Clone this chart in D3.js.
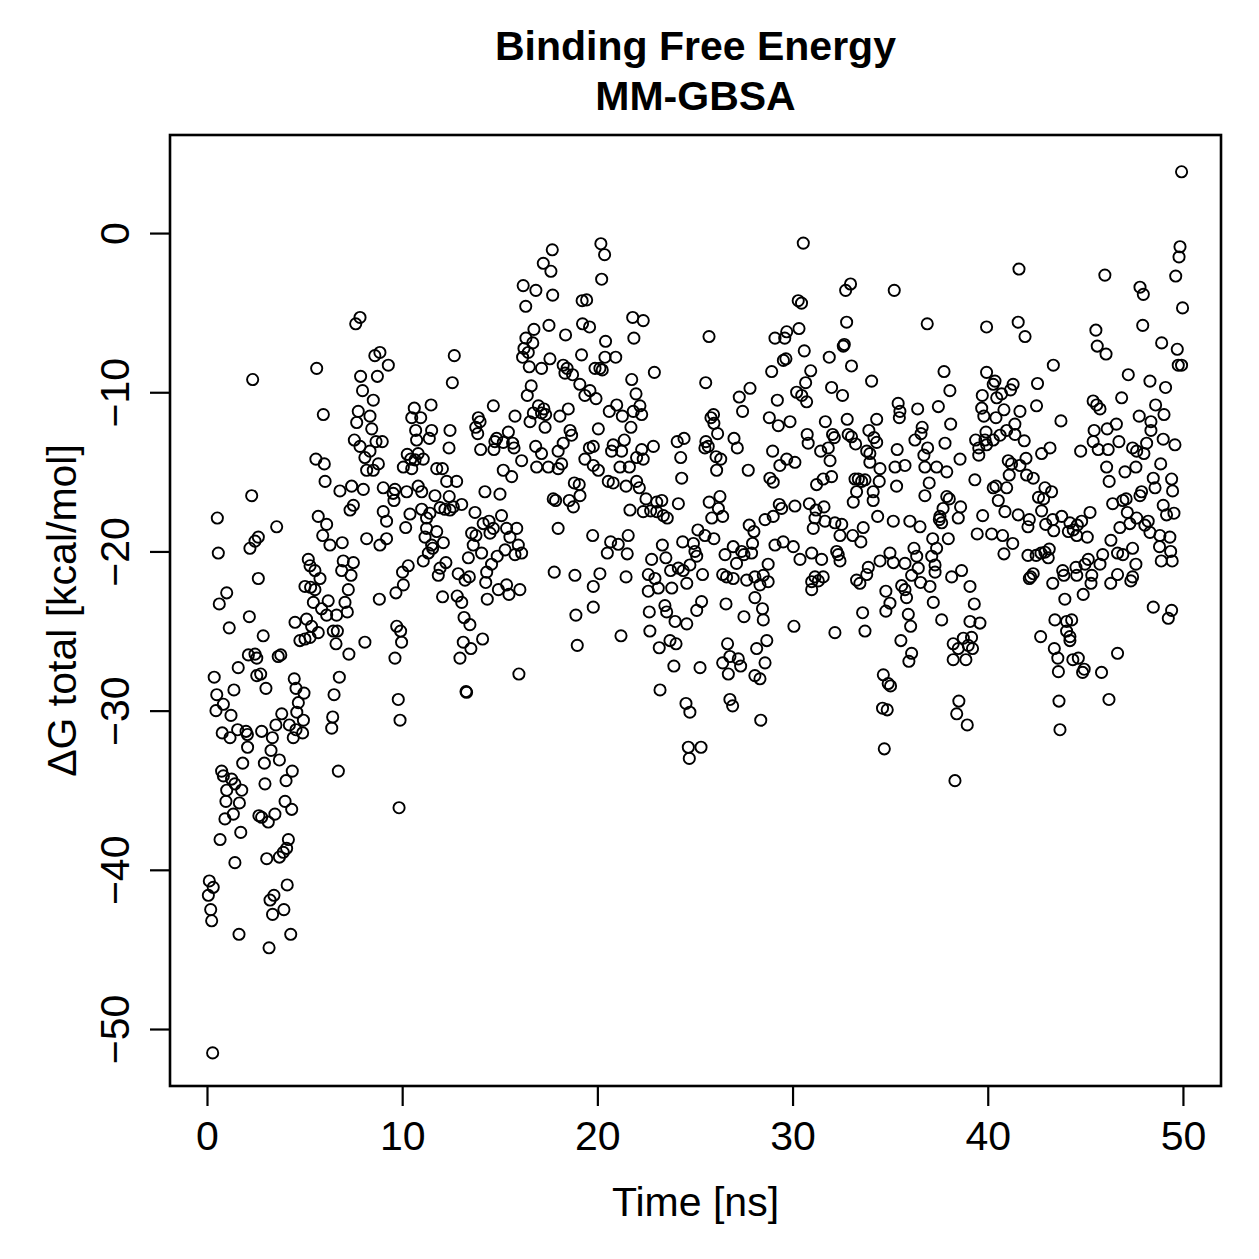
<!DOCTYPE html>
<html>
<head>
<meta charset="utf-8">
<script src="https://cdn.jsdelivr.net/npm/d3@7"></script>
<style>
  body { margin: 0; background: #fff; }
  text { font-family: "Liberation Sans", Arial, Helvetica, sans-serif; }
</style>
</head>
<body>
<div id="chart"></div>
<script>
// Binding free energy (MM-GBSA) per frame.
// Each entry is [time in ns, dG total in kcal/mol].
const window1 = [
  [7.84,-5.3],[7.62,-5.7],[8.86,-7.5],[8.6,-7.7],[9.29,-8.3],[2.34,-9.2],[5.62,-8.5],[7.87,-9.0],[8.73,-9.0],[7.97,-9.9],
  [8.52,-10.5],[5.96,-11.4],[7.75,-11.2],[8.35,-11.5],[7.67,-11.9],[8.44,-12.3],[7.55,-13.0],[8.66,-13.1],[8.98,-13.1],[7.84,-13.4],
  [8.35,-13.7],[8.09,-14.1],[5.58,-14.2],[6.01,-14.5],[8.78,-14.5],[8.18,-14.9],[8.52,-14.9],
  [6.05,-15.6],[6.81,-16.2],[7.41,-15.9],[8.01,-16.1],[9.03,-16.0],[2.29,-16.5],[0.53,-17.9],[7.33,-17.4],[7.5,-17.1],[5.7,-17.8],
  [6.13,-18.3],[3.57,-18.45],[9.03,-17.5],[9.2,-18.1],[2.63,-19.1],[2.46,-19.35],[2.2,-19.8],[5.93,-19.0],[6.3,-19.6],[6.93,-19.45],
  [8.18,-19.2],[8.86,-19.6],[9.2,-19.2],[0.58,-20.1],[5.19,-20.5],[5.28,-20.9],[5.53,-21.2],[5.79,-21.7],[6.98,-20.6],[7.5,-20.7],
  [6.9,-21.2],[7.38,-21.5],[2.63,-21.7],[5.02,-22.2],[5.31,-22.25],[5.53,-22.4],[7.24,-22.4],[1.01,-22.6],[0.63,-23.3],[5.45,-23.2],
  [6.21,-23.1],[7.07,-23.2],[8.83,-23.0],[5.87,-23.6],[6.13,-24.0],[6.64,-24.0],[7.19,-23.8],[2.17,-24.1],[4.51,-24.45],[5.1,-24.25],
  [5.36,-24.7],[5.7,-25.1],[6.47,-25.0],[6.68,-25.0],[1.14,-24.8],[2.88,-25.3],[4.76,-25.6],[5.02,-25.5],[5.28,-25.4],[6.61,-25.8],
  [8.09,-25.7],[7.27,-26.45],[2.12,-26.5],[2.46,-26.45],[2.55,-26.7],[3.65,-26.6],[3.78,-26.5],[1.6,-27.3],[0.37,-27.9],[2.55,-27.8],
  [2.75,-27.7],[6.78,-27.9],[4.47,-28.0],[1.38,-28.7],[3.02,-28.6],[4.56,-28.6],[4.97,-28.9],[0.5,-29.0],[6.51,-29.0],[0.84,-29.6],
  [4.68,-29.5],[0.46,-30.0],[1.23,-30.3],[3.83,-30.2],[4.6,-30.1],[4.94,-30.6],[6.44,-30.4],[6.39,-31.1],[3.53,-30.9],[4.22,-30.9],
  [4.56,-31.2],[1.57,-31.2],[2.0,-31.3],[2.8,-31.3],[0.78,-31.4],[1.18,-31.7],[2.07,-31.5],[4.9,-31.4],[4.42,-31.7],[3.35,-31.7],
  [2.08,-32.3],[3.28,-32.5],[1.83,-33.3],[2.94,-33.3],[3.71,-33.1],[6.73,-33.8],[0.75,-33.8],[0.84,-34.1],[4.37,-33.8],[4.05,-34.4],
  [1.26,-34.3],[1.43,-34.6],[2.97,-34.6],[1.01,-35.0],[1.78,-35.0],
  [0.97,-35.7],[1.66,-35.8],[1.35,-36.5],[0.92,-36.8],[4.0,-35.7],[4.34,-36.2],[3.48,-36.5],[2.66,-36.6],[2.8,-36.7],[3.14,-37.0],
  [1.73,-37.65],[0.67,-38.1],[4.17,-38.1],[4.08,-38.65],[3.91,-38.9],[3.71,-39.2],[3.06,-39.3],[1.43,-39.55],[0.12,-40.7],[0.32,-41.1],
  [0.07,-41.6],[0.19,-42.5],[0.24,-43.2],[4.11,-40.95],[3.43,-41.6],[3.23,-41.9],[3.94,-42.5],[3.36,-42.8],[1.64,-44.05],[4.29,-44.05],
  [3.18,-44.9],[0.29,-51.5]
];

const window2 = [
  [17.69,-1.05],[17.23,-1.9],[17.62,-2.4],[16.2,-3.3],[16.85,-3.6],[17.71,-3.9],[19.22,-4.25],[16.33,-4.6],[17.52,-5.8],[16.75,-6.05],
  [19.24,-5.7],[18.37,-6.4],[16.34,-6.6],[16.69,-6.9],[16.24,-7.25],[16.46,-7.5],[16.17,-7.8],[17.57,-7.9],[19.19,-7.65],[12.67,-7.7],
  [16.51,-8.4],[17.14,-8.5],[18.25,-8.3],[18.45,-8.5],[18.34,-8.8],[18.73,-8.9],[12.57,-9.4],[16.61,-9.6],[16.41,-10.2],[19.1,-9.5],
  [19.36,-10.2],[11.48,-10.8],[10.62,-11.0],[10.49,-11.6],[10.95,-11.6],[14.67,-10.85],[16.98,-10.85],[17.26,-11.05],[17.14,-11.3],[16.72,-11.3],
  [17.35,-11.4],[18.51,-11.05],[18.08,-11.5],[15.78,-11.5],[13.9,-11.6],[13.99,-11.85],[16.55,-11.85],[17.32,-12.2],[13.77,-12.2],[13.87,-12.6],
  [10.69,-12.4],[11.51,-12.4],[12.45,-12.4],[15.44,-12.5],[18.6,-12.4],[18.68,-12.7],[10.74,-13.0],[11.39,-12.9],[14.84,-12.9],[14.75,-13.1],
  [15.18,-13.15],[15.66,-13.2],[15.73,-13.5],[16.84,-13.4],[18.25,-13.2],[19.59,-13.5],[12.4,-13.5],[14.02,-13.6],[14.7,-13.6],[17.14,-13.85],
  [17.99,-13.7],[10.26,-13.9],[10.82,-13.85],[10.44,-14.2],[10.66,-14.25],[11.08,-14.2],[16.12,-14.3],[19.36,-14.2],[10.06,-14.7],[10.49,-14.8],
  [11.77,-14.8],[12.06,-14.8],[15.18,-14.9],[16.89,-14.7],[17.49,-14.7],[17.99,-14.8],[18.17,-14.5],
  [9.63,-16.1],[9.54,-16.35],[9.58,-16.8],[10.23,-16.25],[10.82,-15.9],[11.0,-16.25],[12.28,-15.6],[12.79,-15.6],[11.68,-16.5],[12.41,-16.55],
  [14.24,-16.25],[15.01,-16.4],[15.61,-15.3],[17.74,-16.7],[17.86,-16.8],[18.56,-16.8],[18.77,-17.2],[18.82,-15.7],[19.07,-15.8],[19.11,-16.5],
  [11.0,-17.35],[10.4,-17.65],[11.42,-17.6],[11.94,-17.25],[12.19,-17.35],[12.45,-17.4],[12.62,-17.2],[13.05,-17.05],[13.73,-17.55],[15.09,-17.75],
  [11.25,-17.9],[10.18,-18.5],[11.25,-18.55],[11.77,-18.75],[14.15,-18.25],[14.45,-18.1],[14.67,-18.55],[14.5,-18.85],[15.35,-18.55],[15.87,-18.55],
  [15.52,-19.1],[17.99,-18.55],[13.56,-18.85],[13.78,-19.0],[13.64,-19.6],[11.17,-19.1],[11.51,-19.6],[12.11,-19.45],[11.56,-19.8],[11.34,-20.1],
  [15.95,-19.6],[16.12,-20.1],[15.78,-20.2],[15.27,-19.9],[14.07,-20.1],[14.87,-20.3],[13.39,-20.4],[11.08,-20.6],[10.31,-20.9],[12.24,-20.7],
  [11.94,-21.05],[14.58,-20.8],[14.33,-21.3],[10.02,-21.3],[11.85,-21.5],[12.87,-21.4],[13.22,-21.8],[13.44,-21.6],[17.79,-21.3],[18.85,-21.5],
  [10.06,-22.1],[14.28,-21.95],[9.68,-22.6],[12.07,-22.85],[12.82,-22.8],[13.05,-23.2],[14.36,-23.0],[14.93,-22.4],[15.35,-22.1],[15.47,-22.7],
  [16.03,-22.4],[13.17,-24.15],[13.47,-24.6],[18.9,-24.0],[9.72,-24.7],[9.92,-25.0],[9.97,-25.7],[13.13,-25.7],[14.12,-25.5],[13.52,-26.1],
  [12.96,-26.7],[18.97,-25.9],[9.63,-26.7],[15.98,-27.7],[13.27,-28.8],[13.3,-28.85],[9.8,-29.3],[9.89,-30.6],[9.84,-36.1]
];

const window3 = [
  [20.18,-0.67],[20.37,-1.36],[20.22,-2.9],[19.45,-4.2],[21.81,-5.3],[22.35,-5.5],[19.6,-5.9],[20.42,-6.8],[21.87,-6.6],[25.72,-6.5],
  [29.1,-6.6],[29.6,-6.6],[29.7,-6.2],[20.13,-8.5],[20.39,-7.8],[20.94,-7.8],[20.25,-8.6],[19.88,-8.5],[22.92,-8.75],[21.76,-9.2],
  [25.55,-9.4],[27.82,-9.75],[27.27,-10.3],[28.93,-8.7],[29.66,-7.9],[29.53,-8.0],[19.62,-9.9],[19.93,-10.4],[21.98,-10.1],[20.99,-10.8],
  [20.61,-11.2],[21.28,-11.5],[21.84,-11.2],[22.18,-10.85],[22.27,-11.4],[27.44,-11.2],[29.22,-10.5],[25.95,-11.4],[25.82,-11.6],[25.97,-11.95],
  [28.81,-11.6],[29.27,-12.1],[20.05,-12.3],[21.72,-12.2],[26.16,-12.6],[21.38,-13.0],[24.09,-13.1],[24.44,-12.9],[27.0,-12.9],[27.17,-13.5],
  [19.79,-13.4],[20.81,-13.3],[20.73,-13.7],[21.24,-13.7],[22.27,-13.6],[22.87,-13.4],[25.56,-13.1],[25.51,-13.5],[25.68,-13.4],[28.98,-13.7],
  [24.27,-14.1],[26.08,-14.05],[26.32,-14.2],[22.01,-14.1],[22.35,-14.2],[19.79,-14.6],[21.16,-14.7],[21.64,-14.7],[20.05,-14.9],[29.35,-14.6],
  [29.7,-14.2],[27.73,-14.9],[26.11,-14.9],
  [24.32,-15.4],[20.56,-15.6],[20.81,-15.7],[21.47,-15.9],[22.01,-15.6],[22.15,-16.0],[28.84,-15.4],[29.01,-15.65],[22.49,-16.7],[23.04,-16.9],
  [23.3,-16.8],[24.15,-17.0],[21.67,-17.4],[22.35,-17.5],[22.73,-17.45],[23.04,-17.5],[23.38,-17.75],[23.58,-17.9],[25.73,-16.9],[26.28,-16.55],
  [26.2,-17.3],[25.86,-17.9],[26.42,-17.8],[29.32,-17.05],[29.44,-17.3],[29.01,-17.8],[28.59,-18.0],[27.78,-18.35],[28.02,-18.75],[19.76,-19.0],
  [21.58,-19.0],[25.15,-18.65],[25.51,-19.0],[25.97,-19.2],[20.68,-19.4],[21.07,-19.55],[20.51,-20.1],[21.53,-20.15],[24.37,-19.4],[24.92,-19.5],
  [23.33,-19.6],[25.0,-20.0],[25.09,-20.3],[26.54,-20.2],[26.96,-19.7],[27.39,-20.0],[27.51,-20.2],[27.9,-20.1],[27.95,-19.5],[29.52,-19.4],
  [29.1,-19.6],[22.78,-20.5],[23.51,-20.4],[27.13,-20.75],[28.75,-20.8],[20.13,-21.4],[21.47,-21.6],[22.61,-21.45],[22.95,-21.7],[23.75,-21.2],
  [24.15,-21.05],[24.4,-21.2],[24.74,-20.85],[25.39,-21.45],[26.42,-21.45],[26.62,-21.6],[26.96,-21.7],[27.65,-21.8],[28.07,-21.6],[28.5,-21.5],
  [28.75,-21.9],[24.58,-22.0],[23.81,-22.3],[23.12,-22.3],[22.61,-22.5],[19.79,-22.2],[28.33,-22.1],[28.07,-22.9],[25.34,-23.15],[25.09,-23.7],
  [26.59,-23.3],[23.46,-23.4],[23.55,-23.8],[22.66,-23.8],[19.79,-23.5],[28.46,-23.6],[23.98,-24.4],[24.58,-24.55],[27.51,-24.1],[28.5,-24.3],
  [21.21,-25.3],[22.69,-25.0],[23.72,-25.6],[24.03,-25.8],[23.17,-26.05],[26.67,-25.8],[28.68,-25.6],[28.16,-26.1],[26.79,-26.6],[27.22,-26.75],
  [26.42,-27.0],[27.34,-27.2],[28.59,-27.0],[23.92,-27.2],[25.26,-27.3],[26.71,-27.7],[28.07,-27.8],[28.33,-28.0],[23.21,-28.7],[24.54,-29.55],
  [24.74,-30.1],[26.79,-29.3],[26.93,-29.7],[28.37,-30.6],[24.66,-32.3],[25.31,-32.3],[24.71,-33.0]
];

const window4 = [
  [30.55,-0.63],[32.97,-3.2],[32.72,-3.6],[35.21,-3.6],[30.29,-4.25],[30.46,-4.4],[32.77,-5.6],[36.9,-5.7],[39.94,-5.9],[30.33,-6.0],
  [32.6,-7.1],[32.65,-7.0],[30.6,-7.4],[31.88,-7.8],[33.02,-8.35],[30.93,-8.65],[37.76,-8.7],[34.05,-9.3],[39.94,-8.75],[30.67,-9.4],
  [32.0,-9.7],[38.06,-9.9],[30.21,-10.0],[30.47,-10.2],[30.72,-10.6],[32.56,-10.2],[39.72,-10.2],[35.41,-10.7],[35.5,-11.2],[35.47,-11.6],
  [36.41,-11.05],[37.47,-10.9],[39.69,-11.0],[39.8,-11.5],[29.87,-11.85],[31.68,-11.85],[32.8,-11.7],[34.31,-11.7],[38.1,-12.0],[30.75,-12.65],
  [32.05,-12.65],[32.14,-12.85],[32.85,-12.65],[33.02,-12.8],[33.91,-12.4],[34.17,-12.85],[36.64,-12.2],[36.58,-12.6],[36.27,-13.0],[39.38,-13.0],
  [39.91,-12.5],[39.86,-13.0],[30.8,-13.2],[34.31,-13.15],[33.23,-13.25],[37.81,-13.2],[31.44,-13.7],[31.83,-13.5],[33.8,-13.7],[33.96,-13.85],
  [35.36,-13.6],[36.92,-13.5],[36.73,-13.95],[39.54,-13.5],[39.54,-13.95],[39.94,-13.3],[30.12,-14.4],[31.92,-14.3],[33.96,-14.4],[38.58,-14.2],
  [34.48,-14.8],[35.25,-14.7],[35.76,-14.6],[36.78,-14.7],[37.38,-14.7],[37.9,-15.0],
  [31.23,-15.8],[31.57,-15.45],[32.0,-15.3],[33.2,-15.45],[33.37,-15.45],[33.54,-15.6],[33.71,-15.5],[34.44,-15.6],[35.33,-15.9],[37.0,-15.7],
  [39.34,-15.5],[33.28,-16.25],[34.13,-16.25],[34.13,-16.8],[33.11,-16.9],[36.78,-16.5],[37.9,-16.55],[38.03,-16.7],[30.12,-17.15],[30.86,-17.0],
  [31.2,-17.4],[31.61,-17.2],[37.71,-17.3],[38.61,-17.2],[31.15,-17.9],[31.66,-18.1],[32.17,-18.2],[32.52,-18.3],[31.06,-18.55],[33.62,-18.5],
  [34.36,-17.8],[35.16,-18.1],[36.01,-18.1],[36.53,-18.45],[37.52,-18.0],[37.64,-18.2],[37.55,-17.8],[38.49,-17.9],[39.74,-17.75],[39.46,-18.9],
  [32.43,-19.0],[33.08,-19.0],[33.5,-19.4],[30.04,-19.7],[30.98,-20.1],[30.38,-20.5],[31.49,-20.5],[32.26,-20.0],[32.34,-20.2],[32.43,-20.6],
  [37.18,-19.2],[37.98,-19.2],[36.22,-19.8],[37.38,-19.8],[34.99,-20.1],[36.36,-20.3],[37.13,-20.3],[34.48,-20.6],[35.16,-20.7],[35.76,-20.75],
  [37.3,-20.85],[33.88,-21.0],[36.44,-21.05],[37.3,-21.3],[38.66,-21.2],[33.8,-21.45],[36.1,-21.5],[38.15,-21.6],[31.15,-21.6],[31.57,-21.6],
  [31.32,-21.85],[30.98,-21.9],[33.28,-21.8],[33.45,-22.0],[36.56,-21.95],[35.59,-22.15],[35.76,-22.4],[37.04,-22.2],[39.09,-22.2],[30.98,-22.4],
  [34.78,-22.5],[35.84,-22.9],[39.31,-23.3],[37.21,-23.2],[34.99,-23.25],[34.78,-23.75],[33.59,-23.85],[35.93,-23.95],[36.05,-24.7],[37.64,-24.3],
  [39.09,-24.4],[39.6,-24.5],[30.07,-24.7],[32.17,-25.1],[33.71,-25.0],[35.55,-25.6],[39.17,-25.4],[38.75,-25.45],[38.23,-25.8],[38.49,-26.1],
  [39.0,-25.9],[39.22,-26.1],[36.1,-26.4],[35.96,-26.9],[38.23,-26.8],[38.88,-26.8],[34.65,-27.75],[34.9,-28.3],[35.02,-28.45],[34.61,-29.85],
  [34.85,-29.95],[38.52,-29.4],[38.41,-30.2],[38.95,-30.9],[34.7,-32.4],[38.32,-34.4]
];

const window5 = [
  [49.93,3.85],[49.85,-0.86],[49.8,-1.5],[49.63,-2.7],[41.6,-2.26],[46.0,-2.64],[47.8,-3.4],[47.97,-3.85],[49.98,-4.7],[41.56,-5.6],
  [41.91,-6.5],[45.54,-6.1],[47.94,-5.8],[45.61,-7.1],[46.06,-7.6],[48.91,-6.9],[49.71,-7.3],[49.76,-8.3],[49.93,-8.3],[43.36,-8.3],
  [47.2,-8.9],[48.31,-9.3],[49.11,-9.7],[40.37,-9.3],[40.28,-9.5],[41.3,-9.5],[41.17,-9.85],[42.55,-9.45],[40.71,-10.1],[40.46,-10.35],
  [46.86,-10.35],[45.4,-10.55],[45.58,-10.8],[45.75,-11.05],[48.6,-10.8],[42.5,-10.85],[40.83,-11.1],[41.65,-11.2],[40.42,-11.6],[43.75,-11.8],
  [47.76,-11.5],[48.36,-11.85],[49.03,-11.4],[41.39,-12.0],[40.97,-12.4],[46.59,-12.0],[46.12,-12.3],[45.45,-12.4],[48.36,-12.4],[40.63,-12.7],
  [41.39,-12.65],[40.28,-13.0],[41.87,-13.05],[46.72,-13.1],[45.4,-13.1],[48.99,-12.95],[49.59,-13.3],[48.14,-13.2],[45.66,-13.6],[46.17,-13.6],
  [47.42,-13.5],[47.63,-13.7],[48.0,-13.85],[43.19,-13.5],[42.76,-13.85],[44.76,-13.7],[41.96,-14.15],[41.05,-14.3],[41.22,-14.5],[41.65,-14.6],
  [46.09,-14.7],[47.59,-14.7],[48.86,-14.5],[47.03,-15.0],
  [40.42,-15.9],[40.28,-16.0],[40.97,-16.0],[41.1,-15.2],[41.99,-15.2],[42.33,-15.4],[42.93,-16.0],[43.27,-16.25],[42.6,-16.6],[42.86,-16.7],
  [40.54,-16.8],[46.22,-15.6],[48.48,-15.4],[49.42,-15.45],[48.57,-16.0],[49.47,-16.2],[47.88,-16.25],[47.8,-16.5],[46.4,-17.0],[46.92,-16.8],
  [47.09,-16.7],[48.99,-17.1],[40.88,-17.5],[41.56,-17.7],[42.76,-17.45],[42.13,-18.0],[43.33,-18.0],[43.79,-17.8],[45.24,-17.55],[47.15,-17.55],
  [47.63,-17.9],[48.22,-18.1],[49.16,-17.7],[49.54,-17.6],[42.06,-18.45],[42.97,-18.3],[43.38,-18.7],[44.21,-18.2],[44.38,-18.65],[44.59,-18.35],
  [44.81,-18.1],[44.13,-18.75],[44.56,-19.0],[45.1,-19.1],[46.77,-18.5],[47.28,-18.25],[48.05,-18.35],[48.31,-18.8],[48.82,-19.0],[49.33,-19.1],
  [40.2,-18.9],[40.76,-19.0],[41.28,-19.5],[40.83,-20.15],[42.06,-20.25],[42.48,-20.25],[42.73,-20.1],[42.93,-20.05],[43.15,-19.85],[43.1,-20.4],
  [46.31,-19.3],[47.42,-19.8],[46.65,-20.1],[46.92,-20.2],[45.89,-20.2],[48.8,-19.7],[49.37,-20.0],[49.45,-20.6],[48.89,-20.6],[45.15,-20.5],
  [44.98,-20.8],[45.75,-20.8],[47.59,-20.8],[44.52,-21.0],[43.84,-21.2],[42.33,-21.4],[42.2,-21.6],[42.13,-21.7],[43.9,-21.5],[44.56,-21.5],
  [45.33,-21.5],[46.65,-21.45],[47.42,-21.6],[47.33,-21.85],[45.29,-22.0],[46.3,-22.0],[43.33,-22.0],[43.95,-23.0],[44.89,-22.7],[48.48,-23.5],
  [49.42,-23.7],[49.25,-24.2],[43.44,-24.3],[44.04,-24.4],[44.3,-24.3],[44.04,-25.0],[44.21,-25.35],[44.21,-25.6],[42.71,-25.35],[43.41,-26.1],
  [43.59,-26.7],[44.36,-26.8],[44.64,-26.7],[46.65,-26.4],[43.62,-27.55],[44.86,-27.6],[44.94,-27.4],[45.83,-27.6],[43.65,-29.4],[46.21,-29.3],
  [43.7,-31.2]
];

const xTicks = [0, 10, 20, 30, 40, 50];
const yTicks = [-50, -40, -30, -20, -10, 0];
const titleLines = ['Binding Free Energy', 'MM-GBSA'];
const xLabel = 'Time [ns]';
const yLabel = 'ΔG total [kcal/mol]';

const W = 1259, H = 1259;
const box = { left: 170, right: 1221, top: 135, bottom: 1086 };
const FONT = 41;

const samples = [].concat(window1, window2, window3, window4, window5);

const svg = d3.select('#chart').append('svg')
  .attr('width', W)
  .attr('height', H)
  .style('display', 'block')
  .style('background', '#fff');

const x = d3.scaleLinear().domain([-1.895, 51.95]).range([box.left, box.right]);
const y = d3.scaleLinear().domain([-53.58, 6.16]).range([box.bottom, box.top]);

// points (pch = 1)
svg.append('g')
  .selectAll('circle')
  .data(samples)
  .join('circle')
  .attr('cx', d => x(d[0]))
  .attr('cy', d => y(d[1]))
  .attr('r', 5.6)
  .attr('fill', 'none')
  .attr('stroke', '#000')
  .attr('stroke-width', 1.9);

// x axis
svg.append('g')
  .attr('transform', `translate(0,${box.bottom})`)
  .call(d3.axisBottom(x).tickValues(xTicks).tickSize(20).tickSizeOuter(0))
  .call(g => g.select('.domain').remove())
  .call(g => g.selectAll('.tick line').attr('stroke', '#000').attr('stroke-width', 2.2))
  .call(g => g.selectAll('.tick text')
    .attr('y', 64).attr('dy', 0)
    .attr('fill', '#000')
    .style('font-size', FONT + 'px'));

// y axis, labels parallel to the axis
svg.append('g')
  .attr('transform', `translate(${box.left},0)`)
  .call(d3.axisLeft(y).tickValues(yTicks).tickSize(20).tickSizeOuter(0))
  .call(g => g.select('.domain').remove())
  .call(g => g.selectAll('.tick line').attr('stroke', '#000').attr('stroke-width', 2.2))
  .call(g => g.selectAll('.tick text')
    .attr('x', 0).attr('y', 0).attr('dy', 0)
    .attr('transform', 'translate(-41,0) rotate(-90)')
    .attr('text-anchor', 'middle')
    .attr('fill', '#000')
    .style('font-size', FONT + 'px'));

// box
svg.append('rect')
  .attr('x', box.left)
  .attr('y', box.top)
  .attr('width', box.right - box.left)
  .attr('height', box.bottom - box.top)
  .attr('fill', 'none')
  .attr('stroke', '#000')
  .attr('stroke-width', 2.6);

// titles
const cx = (box.left + box.right) / 2;
svg.append('g')
  .selectAll('text')
  .data(titleLines)
  .join('text')
  .attr('x', cx)
  .attr('y', (d, i) => 60 + i * 50)
  .attr('text-anchor', 'middle')
  .style('font-size', FONT + 'px')
  .style('font-weight', '700')
  .text(d => d);

svg.append('text')
  .attr('x', cx)
  .attr('y', 1216)
  .attr('text-anchor', 'middle')
  .style('font-size', FONT + 'px')
  .text(xLabel);

svg.append('text')
  .attr('transform', `translate(76,${(box.top + box.bottom) / 2}) rotate(-90)`)
  .attr('text-anchor', 'middle')
  .style('font-size', FONT + 'px')
  .text(yLabel);
</script>
</body>
</html>
